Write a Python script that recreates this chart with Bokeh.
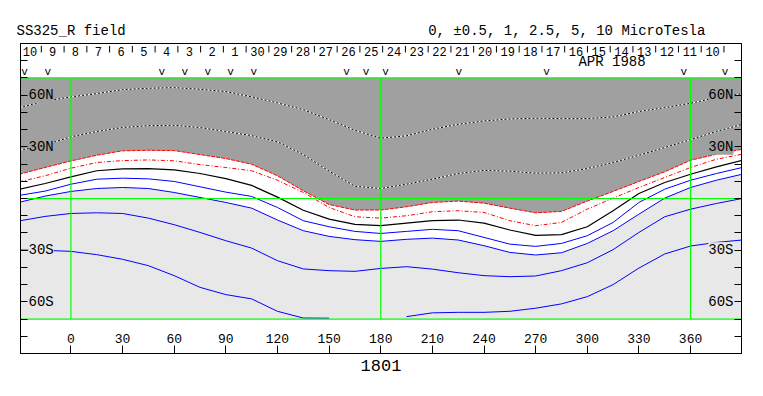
from bokeh.plotting import figure
from bokeh.models import Range1d, LinearAxis, FixedTicker, CustomJSTickFormatter
from bokeh.core.properties import value
from bokeh.embed import file_html
from bokeh.resources import INLINE

FONT = "Liberation Mono"

# ---------------- data ----------------
# Carrington longitude sample points for the contour lines
lon = [-30, -15, 0, 15, 30, 45, 60, 75, 90, 105, 120, 135, 150, 165, 180,
       195, 210, 225, 240, 255, 270, 285, 300, 315, 330, 345, 360, 375, 390]

# latitude of each contour level (MicroTesla) at the sample longitudes
pos_5 = [52.8, 56.6, 59.0, 60.9, 63.2, 64.0, 64.4, 63.4, 62.1, 59.0, 55.5, 51.6, 45.8, 39.6, 35.0,
         36.4, 40.2, 43.1, 45.0, 46.2, 46.6, 46.4, 46.4, 47.4, 50.5, 52.8, 55.3, 58.6, 60.9]
pos_2p5 = [28.0, 31.1, 35.8, 38.9, 41.2, 42.3, 42.5, 41.2, 38.9, 36.5, 32.9, 25.5, 15.9, 7.1, 5.8,
           8.3, 11.2, 14.5, 16.3, 15.9, 14.7, 14.9, 17.4, 20.9, 25.1, 29.6, 34.2, 38.9, 43.1]
pos_1 = [14.1, 18.0, 21.8, 25.1, 27.7, 28.0, 27.8, 25.5, 23.2, 19.9, 13.2, 4.5, -3.5, -6.7, -6.7,
         -4.8, -2.3, -1.5, -2.7, -5.6, -8.3, -7.5, -1.5, 4.1, 9.9, 15.5, 22.2, 25.7, 28.6]
pos_0p5 = [9.7, 13.2, 17.6, 20.9, 22.0, 22.4, 21.9, 19.7, 18.0, 16.1, 10.6, 3.5, -5.2, -10.6, -11.4,
           -10.0, -7.7, -7.1, -8.1, -12.9, -15.8, -13.9, -6.2, 0.2, 6.4, 12.2, 18.0, 22.8, 25.7]
neutral = [5.4, 8.7, 12.6, 16.1, 17.2, 17.4, 16.6, 14.5, 11.5, 7.6, 0.8, -6.8, -12.0, -15.0, -15.8,
           -14.3, -12.9, -12.5, -14.3, -18.3, -21.4, -21.0, -16.4, -7.1, 2.9, 9.3, 14.1, 18.4, 22.2]
neg_0p5 = [1.8, 4.3, 8.3, 11.2, 11.8, 11.4, 9.9, 6.8, 3.7, 1.2, -5.2, -12.9, -16.4, -19.1, -20.3,
           -19.1, -17.9, -18.7, -22.6, -26.5, -27.8, -26.1, -21.6, -13.9, -2.3, 5.4, 10.6, 14.5, 18.0]
neg_1 = [-2.2, 1.4, 4.1, 5.8, 6.4, 5.8, 3.5, 0.6, -2.3, -5.6, -12.5, -18.7, -22.0, -23.9, -24.9,
         -23.7, -23.0, -24.1, -27.4, -31.3, -32.8, -31.5, -26.1, -18.7, -9.1, 0.2, 6.4, 10.6, 14.1]
neg_2p5 = [-13.0, -10.4, -8.7, -8.3, -8.7, -11.4, -15.2, -19.7, -24.5, -28.8, -36.1, -40.9, -41.9, -42.3, -40.6,
           -39.6, -41.0, -43.1, -44.8, -45.4, -45.0, -41.9, -37.3, -29.7, -19.7, -10.6, -6.2, -2.9, 0.0]
neg_5 = [-29.9, -30.1, -30.7, -32.6, -35.3, -39.0, -44.8, -51.6, -55.8, -58.3, -65.5, -69.4, -69.5, float("nan"), float("nan"),
         -68.6, -66.4, -66.1, -66.1, -65.5, -63.7, -61.2, -57.0, -50.0, -40.4, -32.2, -27.6, -25.5, -24.1]

lon_ticks = [0, 30, 60, 90, 120, 150, 180, 210, 240, 270, 300, 330, 360]
lon_tick_labels = ["0", "30", "60", "90", "120", "150", "180", "210", "240", "270", "300", "330", "360"]
lat_ticks = [-90, -80, -70, -60, -50, -40, -30, -20, -10, 0, 10, 20, 30, 40, 50, 60, 70, 80, 90]
lat_label_vals = [60, 30, -30, -60]
lat_label_text = ["60N", "30N", "30S", "60S"]

meridians = [0, 180, 360]
parallels = [70, 0, -70]
map_lat_limit = 70

days = ["10", "9", "8", "7", "6", "5", "4", "3", "2", "1", "30", "29", "28", "27", "26", "25",
        "24", "23", "22", "21", "20", "19", "18", "17", "16", "15", "14", "13", "12", "11", "10"]
first_day_lon = -23.8
deg_per_day = 13.22
obs_lon = [-27.0, -13.5, 52.8, 66.1, 79.5, 92.8, 106.2, 160.2, 171.5, 182.8, 225.4, 276.4, 356.1, 380.0]

rotation = "1801"
title_left = "SS325_R field"
title_right = "0, \u00b10.5, 1, 2.5, 5, 10 MicroTesla"
month_label = "APR 1988"

# ---------------- colours ----------------
C_POS = "#a0a0a0"
C_NEG = "#e8e8e8"
C_GREEN = "#00ff00"
C_RED = "#ff0000"
C_BLUE = "#0000ff"

X0, X1 = -29.3, 389.6
p = figure(frame_width=721, frame_height=310,
           x_range=Range1d(X0, X1), y_range=Range1d(-90, 90),
           x_axis_type=None, y_axis_type=None,
           output_backend="svg", toolbar_location=None,
           min_border_left=20, min_border_right=20, min_border_top=43, min_border_bottom=28)
p.xgrid.visible = False
p.ygrid.visible = False
p.outline_line_color = "black"
p.outline_line_alpha = 1.0
p.outline_line_width = 1
p.background_fill_color = "white"
p.border_fill_color = "white"

# one title line (monospace): left caption and contour-level legend separated by fixed spaces
p.title.text = title_left + "\u00a0" * 36 + title_right
p.title.text_font = FONT
p.title.text_font_size = "14px"
p.title.text_font_style = "normal"
p.title.text_color = "black"
p.title.align = "left"
p.title.offset = -4
p.title.standoff = 10

# shaded regions
p.varea(x=lon, y1=pos_1, y2=map_lat_limit, fill_color=C_POS)
p.varea(x=lon, y1=-map_lat_limit, y2=neg_1, fill_color=C_NEG)

# contours
for ys in (pos_5, pos_2p5):
    p.line(lon, ys, line_color="white", line_width=1)
    p.line(lon, ys, line_color="black", line_width=1, line_dash="2 2")
p.line(lon, pos_1, line_color=C_RED, line_width=1, line_dash="4 1")
p.line(lon, pos_0p5, line_color=C_RED, line_width=1, line_dash="4 2 1 2")
p.line(lon, neutral, line_color="black", line_width=1.2)
for ys in (neg_0p5, neg_1, neg_2p5, neg_5):
    p.line(lon, ys, line_color=C_BLUE, line_width=1)

# green grid lines
p.segment(x0=meridians, y0=-map_lat_limit, x1=meridians, y1=map_lat_limit, line_color=C_GREEN, line_width=1.2)
p.segment(x0=X0, y0=parallels, x1=X1, y1=parallels, line_color=C_GREEN, line_width=1.2)

# latitude labels inside the frame (left and right)
lab_bg = [C_POS if v > 0 else C_NEG for v in lat_label_vals]
p.text(x=X0, y=lat_label_vals, text=lat_label_text, x_offset=8,
       text_font=value(FONT), text_font_size="14px", text_align="left", text_baseline="middle",
       text_color="black", background_fill_color=lab_bg)
p.text(x=X1, y=lat_label_vals, text=lat_label_text, x_offset=-8,
       text_font=value(FONT), text_font_size="14px", text_align="right", text_baseline="middle",
       text_color="black", background_fill_color=lab_bg)

# longitude tick labels (inside the bottom strip)
p.text(x=lon_ticks, y=-81.0, text=lon_tick_labels,
       text_font=value(FONT), text_font_size="13px", text_align="center", text_baseline="middle",
       text_color="black")

# date strip
day_lon = [first_day_lon + i * deg_per_day for i in range(len(days))]
sep_lon = [d + deg_per_day / 2 for d in day_lon]
p.text(x=day_lon, y=85.4, text=days,
       text_font=value(FONT), text_font_size="12px", text_align="center", text_baseline="middle",
       text_color="black")
p.segment(x0=sep_lon, y0=88.6, x1=sep_lon, y1=84.8, line_color="black", line_width=1)
p.text(x=obs_lon, y=73.4, text=["v"] * len(obs_lon),
       text_font=value(FONT), text_font_size="11px", text_align="center", text_baseline="middle",
       text_color="black")
p.text(x=[314.4], y=79.3, text=[month_label],
       text_font=value(FONT), text_font_size="14px", text_align="center", text_baseline="middle",
       text_color="black")

# axes: inward ticks, no numeric labels (labels drawn inside above)
blank = CustomJSTickFormatter(code="return ''")
for side in ("left", "right"):
    ax = LinearAxis(ticker=FixedTicker(ticks=lat_ticks), formatter=blank,
                    major_tick_in=7, major_tick_out=0, minor_tick_line_color=None,
                    major_label_standoff=0, axis_line_color="black")
    p.add_layout(ax, side)
xb = LinearAxis(ticker=FixedTicker(ticks=lon_ticks), formatter=blank,
                major_tick_in=8, major_tick_out=0, minor_tick_line_color=None,
                major_label_standoff=0, axis_line_color="black",
                axis_label=rotation, axis_label_standoff=6,
                axis_label_text_font=FONT, axis_label_text_font_size="17px",
                axis_label_text_font_style="normal", axis_label_text_color="black")
p.add_layout(xb, "below")

open("out.html", "w").write(file_html(p, INLINE))
